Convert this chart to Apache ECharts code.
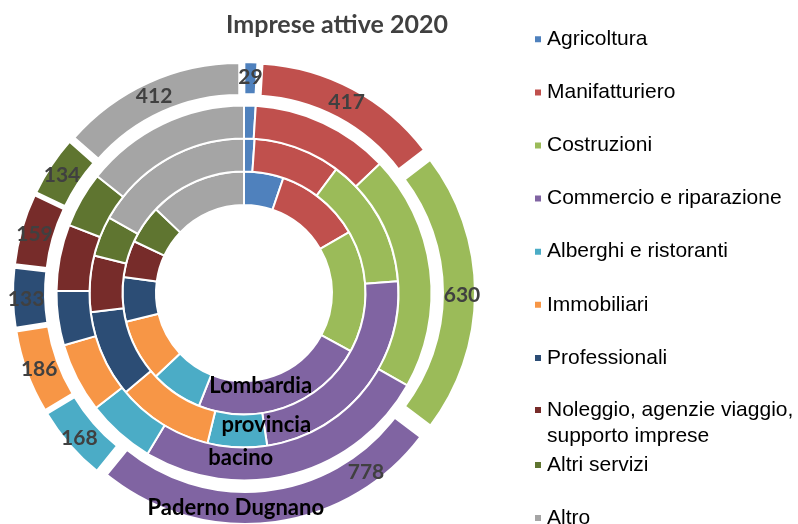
<!DOCTYPE html>
<html>
<head>
<meta charset="utf-8">
<script src="https://cdn.jsdelivr.net/npm/echarts@6/dist/echarts.min.js"></script>
<style>
html,body{margin:0;padding:0;background:#fff;}
#chart{width:798px;height:524px;}
</style>
</head>
<body>
<div id="chart"></div>
<script>
// ---- data ----
const categories = [
  'Agricoltura', 'Manifatturiero', 'Costruzioni', 'Commercio e riparazione',
  'Alberghi e ristoranti', 'Immobiliari', 'Professionali',
  'Noleggio, agenzie viaggio, supporto imprese', 'Altri servizi', 'Altro'
];
const colors = ['#4F81BD', '#C0504D', '#9BBB59', '#8064A2', '#4BACC6',
                '#F79646', '#2C4D75', '#772C2A', '#5F7530', '#A5A5A5'];
// outer ring: Paderno Dugnano (counts shown as labels)
const paderno = [29, 417, 630, 778, 168, 186, 133, 159, 134, 412];
// inner rings: shares (%)
const bacino = [1.0, 11.9, 20.3, 25.4, 5.9, 6.0, 4.7, 5.7, 4.8, 14.3];
const provincia = [1.1, 9.1, 13.6, 23.8, 6.2, 10.1, 9.1, 5.9, 4.2, 16.9];
const lombardia = [5.25, 11.4, 16.3, 23.1, 6.9, 8.25, 5.9, 4.9, 5.1, 12.9];
const ringNames = ['Lombardia', 'provincia', 'bacino', 'Paderno Dugnano'];
const title = 'Imprese attive 2020';

const chart = echarts.init(document.getElementById('chart'), null, {renderer: 'canvas'});
const center = [244, 293];

function ring(name, values, radius, outer) {
  const s = {
    type: 'pie',
    name: name,
    center: center,
    radius: radius,
    startAngle: 90,
    clockwise: true,
    avoidLabelOverlap: false,
    selectedMode: outer ? 'multiple' : false,
    selectedOffset: 11.5,
    emphasis: {disabled: true},
    itemStyle: {borderColor: '#fff', borderWidth: 2},
    label: outer ? {
      show: true, position: 'inside', rotate: 0,
      formatter: '{c}', color: '#404040',
      fontFamily: 'Lato', fontWeight: 'bold', fontSize: 21
    } : {show: false},
    labelLine: {show: false},
    data: values.map((v, i) => ({
      name: categories[i], value: v, selected: !!outer,
      itemStyle: {color: colors[i]}
    }))
  };
  if (outer) {
    // the "Commercio" value label was moved off its slice centre in the original
    s.labelLayout = p => p.dataIndex === 3 ? {dx: 96, dy: -37} : {dy: 2};
  }
  return s;
}

const legendText = {fontFamily: "'Liberation Sans', Arial", fontSize: 21, color: '#000', lineHeight: 26};
const legendBase = {
  orient: 'vertical', left: 533, padding: 0, icon: 'rect',
  itemWidth: 8, itemHeight: 8, itemGap: 27.1, textStyle: legendText,
  selectedMode: false
};

const labelFont = {fontFamily: 'Lato', fontWeight: 'bold', fontSize: 22, fill: '#000'};
const ringLabelPos = [[260.7, 386], [266.3, 424.5], [240.8, 457.6], [235.8, 507.6]];

chart.setOption({
  animation: false,
  color: colors,
  title: {
    text: title, left: 337, top: 25, padding: 0,
    textAlign: 'center', textVerticalAlign: 'middle',
    textStyle: {fontFamily: 'Lato', fontWeight: 'bold', fontSize: 25, color: '#404040'}
  },
  legend: [
    Object.assign({}, legendBase, {top: 26.3, height: 400, data: categories.slice(0, 7)}),
    Object.assign({}, legendBase, {top: 371, height: 120, data: categories.slice(7, 8),
      formatter: n => '\n' + n.replace(', supporto', ',\nsupporto')}),
    Object.assign({}, legendBase, {top: 452, height: 150, data: categories.slice(8, 10)})
  ],
  graphic: ringNames.map((t, i) => ({
    type: 'text', z: 100,
    x: ringLabelPos[i][0], y: ringLabelPos[i][1],
    style: Object.assign({text: t, align: 'center', verticalAlign: 'middle'}, labelFont)
  })),
  series: [
    ring(ringNames[0], lombardia, [88, 121.5], false),
    ring(ringNames[1], provincia, [121.5, 154.5], false),
    ring(ringNames[2], bacino, [154.5, 187.5], false),
    ring(ringNames[3], paderno, [187.5, 219.5], true)
  ]
});
</script>
</body>
</html>
